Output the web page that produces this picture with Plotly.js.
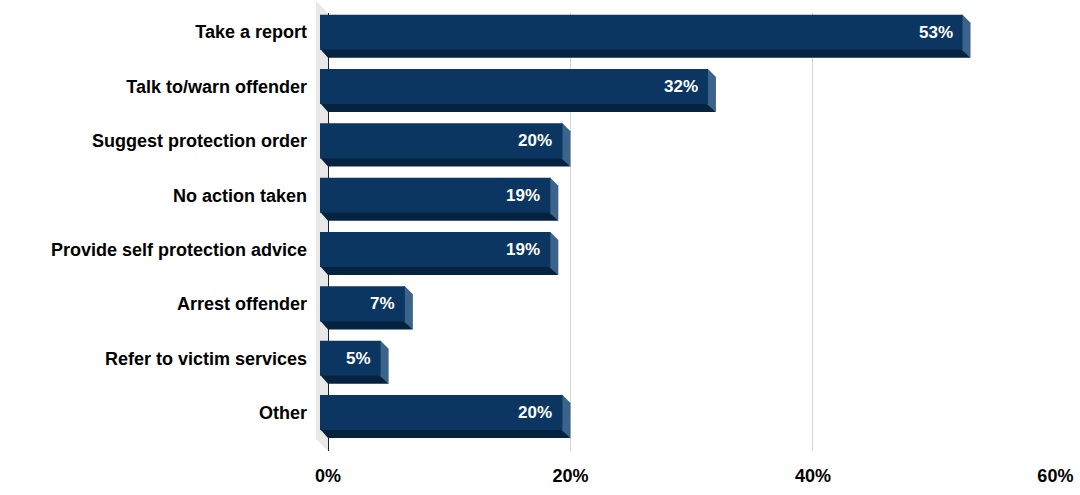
<!DOCTYPE html>
<html>
<head>
<meta charset="utf-8">
<script src="https://cdn.plot.ly/plotly-3.0.1.min.js"></script>
<style>
html, body { margin: 0; padding: 0; background: #fff; }
#chart { width: 1080px; height: 495px; }
</style>
</head>
<body>
<div id="chart"></div>
<script>
// data
const categories = [
    "Take a report",
    "Talk to/warn offender",
    "Suggest protection order",
    "No action taken",
    "Provide self protection advice",
    "Arrest offender",
    "Refer to victim services",
    "Other"
];
const shares = [53, 32, 20, 19, 19, 7, 5, 20];
const tickValues = [0, 20, 40, 60];
const tickLabels = ["0%", "20%", "40%", "60%"];

// geometry (pixels) used to turn the 3d depth into axis units
const W = 1080, H = 495;
const margin = { l: 316, r: 24, t: 13, b: 44 };
const xRange = [-0.99, 60.05];
const yRange = [7.56, -0.5];
const depth = 8;
const wallDepth = 12;
const barWidth = 0.645;

const plotW = W - margin.l - margin.r;
const plotH = H - margin.t - margin.b;
const pxX = plotW / (xRange[1] - xRange[0]);
const pxY = plotH / (yRange[0] - yRange[1]);
const dx = depth / pxX;
const dy = depth / pxY;
const half = barWidth / 2;
// small overlap so the faces meet without a seam
const seamX = 1 / pxX;
const seamY = 1 / pxY;

const idx = categories.map((c, i) => i);

const front = "#0a3661";
const bottom = "#05223f";
const side = "#3c6389";
const font = "Liberation Sans, Arial, sans-serif";

// front faces
const traces = [{
    type: "bar",
    orientation: "h",
    y: idx,
    x: shares,
    base: -dx,
    width: barWidth,
    offset: -half - dy,
    marker: { color: front, line: { width: 0 } },
    hoverinfo: "skip",
    showlegend: false
}];

const shapes = [];

// left wall
shapes.push({
    type: "path",
    xref: "x",
    yref: "paper",
    layer: "below",
    path: `M ${xRange[0]},${1 + wallDepth / plotH} L 0,1 L 0,0 L ${xRange[0]},${wallDepth / plotH} Z`,
    fillcolor: "#e8e8e8",
    line: { width: 0 }
});

// bottom and right faces, drawn under the front faces
shares.forEach((v, i) => {
    shapes.push({
        type: "path",
        xref: "x",
        yref: "y",
        layer: "between",
        path: `M ${-dx},${i - dy + half - seamY} L ${v - dx},${i - dy + half - seamY} L ${v},${i + half} L 0,${i + half} Z`,
        fillcolor: bottom,
        line: { width: 0 }
    });
    shapes.push({
        type: "path",
        xref: "x",
        yref: "y",
        layer: "between",
        path: `M ${v - dx - seamX},${i - dy - half} L ${v - dx},${i - dy - half} L ${v},${i - half} L ${v},${i + half} L ${v - dx - seamX},${i - dy + half} Z`,
        fillcolor: side,
        line: { width: 0 }
    });
});

// value labels
const annotations = shares.map((v, i) => ({
    x: v - dx,
    y: i - dy,
    xref: "x",
    yref: "y",
    text: v + "%",
    showarrow: false,
    xanchor: "right",
    xshift: -8,
    font: { family: font, size: 17, color: "#ffffff", weight: 700 }
}));

Plotly.newPlot("chart", traces, {
    width: W,
    height: H,
    margin: margin,
    paper_bgcolor: "#ffffff",
    plot_bgcolor: "#ffffff",
    showlegend: false,
    xaxis: {
        range: xRange,
        tickvals: tickValues,
        ticktext: tickLabels,
        showgrid: true,
        gridcolor: "#d4d4d4",
        gridwidth: 1,
        zeroline: true,
        zerolinecolor: "#1e1e1e",
        zerolinewidth: 1,
        ticks: "",
        ticklabelstandoff: 12,
        tickfont: { family: font, size: 18, color: "#000000", weight: 700 },
        fixedrange: true
    },
    yaxis: {
        range: yRange,
        tickvals: idx.map(i => i - dy),
        ticktext: categories,
        showgrid: false,
        zeroline: false,
        ticks: "",
        ticklabelstandoff: 8,
        tickfont: { family: font, size: 18, color: "#000000", weight: 700 },
        fixedrange: true
    },
    shapes: shapes,
    annotations: annotations,
    font: { family: font }
}, { displayModeBar: false, staticPlot: true });
</script>
</body>
</html>
